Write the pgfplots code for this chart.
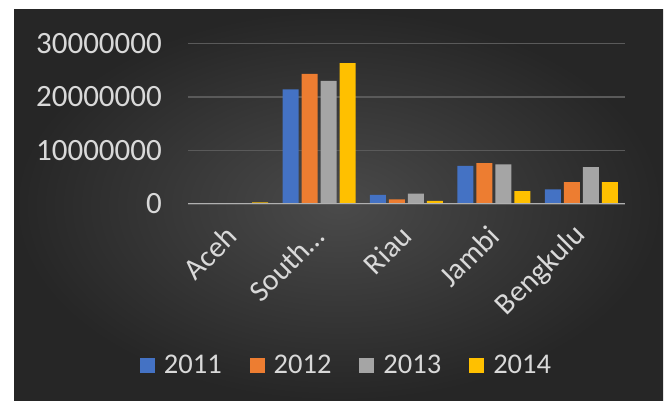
\documentclass[border=0pt]{standalone}
\usepackage{pgfplots}
\pgfplotsset{compat=1.18}
\usepackage{fontspec}
\setmainfont{Carlito}
\definecolor{c11}{HTML}{4472C4}
\definecolor{c12}{HTML}{ED7D31}
\definecolor{c13}{HTML}{A5A5A5}
\definecolor{c14}{HTML}{FFC000}
\definecolor{txt}{HTML}{D9D9D9}
\definecolor{gridc}{HTML}{5A5A5A}
\definecolor{axc}{HTML}{B0B0B0}
\definecolor{bgin}{HTML}{4A4A4A}
\definecolor{bgout}{HTML}{262626}
\begin{document}
\begin{tikzpicture}[x=1pt,y=1pt]
\fill[white] (0,0) rectangle (665,401);
\shade[inner color=bgin, outer color=bgout] (14,0) rectangle (663,391);
\begin{axis}[
  at={(188pt,197pt)}, anchor=south west,
  scale only axis, width=437pt, height=160.7pt,
  ybar=3pt, bar width=16pt,
  xmin=-0.5, xmax=4.5, ymin=0, ymax=30000000,
  scaled y ticks=false,
  xtick={0,1,2,3,4},
  xticklabels={Aceh,South…\hspace{-16pt},Riau,Jambi,Bengkulu},
  ytick={0,10000000,20000000,30000000},
  yticklabels={0,10000000,20000000,30000000},
  axis line style={draw=none},
  tick style={draw=none},
  major tick length=0pt,
  ymajorgrids, grid style={gridc, line width=1.5pt},
  yticklabel style={font=\fontsize{31}{33}\selectfont, text=txt, inner sep=0pt, anchor=east, xshift=-26pt},
  xticklabel style={font=\fontsize{30}{32}\selectfont, text=txt, inner sep=0pt, xshift=0pt, yshift=-27pt, rotate=45, anchor=east},
  legend columns=4,
  legend style={at={(0.3604,-1.002)}, anchor=center, draw=none, fill=none,
    font=\fontsize{28.5}{30}\selectfont, text=txt,
    nodes={inner sep=0pt},
    /tikz/every odd column/.append style={column sep=9pt},
    /tikz/every even column/.append style={column sep=28pt}},
  legend image code/.code={\fill[#1] (0pt,-7.5pt) rectangle (15pt,7.5pt);},
]
\addplot[fill=c11, draw=none] coordinates {(0,20000) (1,21400000) (2,1680000) (3,7140000) (4,2730000)};
\addplot[fill=c12, draw=none] coordinates {(0,20000) (1,24300000) (2,870000) (3,7640000) (4,4100000)};
\addplot[fill=c13, draw=none] coordinates {(0,30000) (1,23000000) (2,1930000) (3,7390000) (4,6900000)};
\addplot[fill=c14, draw=none] coordinates {(0,300000) (1,26300000) (2,560000) (3,2420000) (4,4100000)};
\legend{2011,2012,2013,2014}
\draw[axc, line width=2pt] (axis cs:-0.5,0) -- (axis cs:4.5,0);
\end{axis}
\end{tikzpicture}
\end{document}
